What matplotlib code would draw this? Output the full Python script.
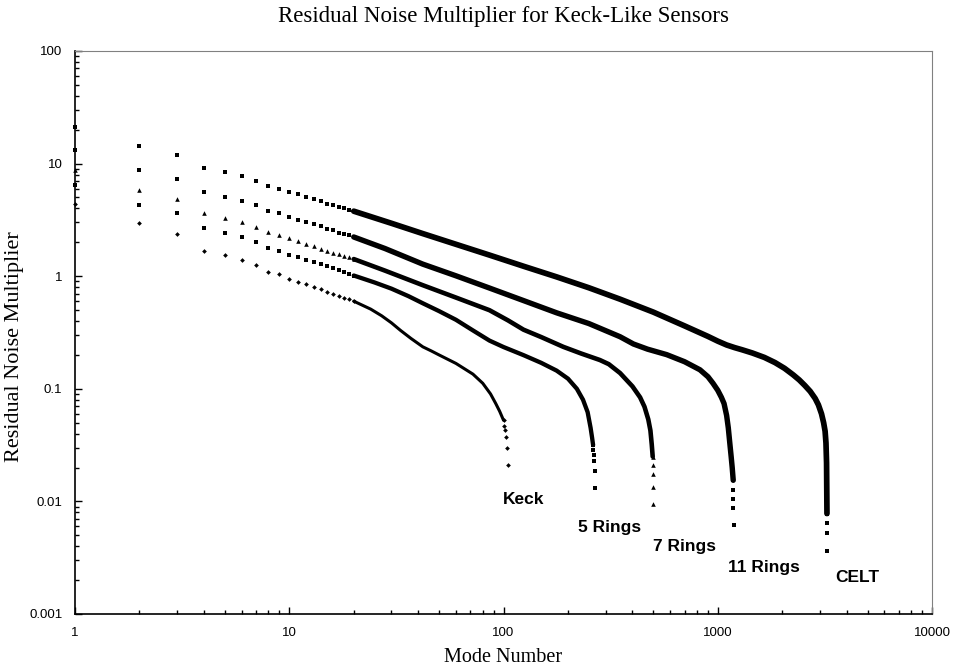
import numpy as np
import matplotlib
matplotlib.use("Agg")
import matplotlib.pyplot as plt
from matplotlib.ticker import LogLocator, FuncFormatter, NullFormatter

# ---- data (mode number -> residual noise multiplier)
# first 20 modes are drawn as individual markers
head_modes = list(range(1, 21))

celt_head = [21.2, 14.4, 12.0, 9.2, 8.5, 7.7, 7.0, 6.3, 6.0, 5.6,
             5.33, 5.06, 4.80, 4.61, 4.39, 4.25, 4.13, 4.02, 3.91, 3.78]
r11_head = [13.2, 8.7, 7.27, 5.6, 5.06, 4.66, 4.25, 3.83, 3.61, 3.36,
            3.17, 3.03, 2.90, 2.78, 2.65, 2.55, 2.44, 2.37, 2.31, 2.23]
r7_head = [8.7, 5.77, 4.83, 3.65, 3.32, 3.02, 2.74, 2.47, 2.31, 2.19,
           2.04, 1.93, 1.84, 1.76, 1.69, 1.62, 1.57, 1.515, 1.466, 1.42]
r5_head = [6.5, 4.33, 3.61, 2.67, 2.43, 2.22, 2.0, 1.78, 1.68, 1.55,
           1.47, 1.40, 1.34, 1.28, 1.227, 1.178, 1.13, 1.092, 1.056, 1.014]
keck_head = [4.36, 2.94, 2.39, 1.69, 1.54, 1.39, 1.25, 1.09, 1.04, 0.953,
             0.89, 0.845, 0.803, 0.767, 0.731, 0.702, 0.668, 0.642, 0.621, 0.600]

# dense middle part (markers merge into a solid band)
celt_body_modes = [20, 30, 42, 60, 86, 125, 177, 250, 350, 500, 700, 900,
                   1000, 1100, 1200, 1300, 1450, 1650, 1850, 2050, 2250,
                   2400, 2550, 2700, 2850, 2950, 3050, 3120, 3170, 3200,
                   3220, 3234]
celt_body = [3.78, 2.95, 2.39, 1.92, 1.54, 1.22, 0.986, 0.79, 0.625, 0.48,
             0.362, 0.292, 0.265, 0.245, 0.232, 0.222, 0.208, 0.19, 0.171,
             0.152, 0.133, 0.12, 0.107, 0.095, 0.082, 0.072, 0.06, 0.05,
             0.042, 0.033, 0.022, 0.0078]
r11_body_modes = [20, 28, 42, 60, 86, 125, 177, 250, 282, 350, 404, 470, 578,
                  700, 826, 900, 950, 1000, 1040, 1070, 1100, 1120, 1140,
                  1155, 1168, 1176, 1181]
r11_body = [2.23, 1.76, 1.28, 1.008, 0.785, 0.604, 0.473, 0.38, 0.345, 0.29,
            0.25, 0.225, 0.201, 0.174, 0.1475, 0.128, 0.112, 0.097, 0.084,
            0.074, 0.058, 0.045, 0.032, 0.025, 0.02, 0.017, 0.0154]
r7_body_modes = [20, 28, 42, 60, 86, 105, 124, 150, 190, 230, 282, 310, 350,
                 400, 434, 455, 474, 485, 492, 497]
r7_body = [1.42, 1.12, 0.832, 0.646, 0.499, 0.405, 0.335, 0.288, 0.236,
           0.206, 0.18, 0.1655, 0.138, 0.105, 0.084, 0.0693, 0.0535, 0.0426,
           0.032, 0.025]
r5_body_modes = [20, 25, 30, 36, 42, 50, 60, 72, 86, 100, 124, 150, 177, 200,
                 220, 235, 247, 255, 259, 262]
r5_body = [1.014, 0.88, 0.775, 0.665, 0.575, 0.49, 0.41, 0.33, 0.268, 0.235,
           0.199, 0.17, 0.145, 0.123, 0.1, 0.08, 0.062, 0.045, 0.037, 0.0316]
keck_body_modes = [20, 24, 27, 30, 33, 37, 42, 46, 50, 60, 72, 80, 87, 92, 96,
                   100]
keck_body = [0.600, 0.51, 0.445, 0.385, 0.331, 0.28, 0.236, 0.217, 0.20,
             0.168, 0.135, 0.112, 0.090, 0.074, 0.063, 0.0526]

# last few modes, separated again as the curve drops
celt_tail_modes = [3234, 3235, 3236, 3237]
celt_tail = [0.0078, 0.00637, 0.00519, 0.00363]
r11_tail_modes = [1181, 1182, 1183, 1184, 1185]
r11_tail = [0.0154, 0.0126, 0.0106, 0.00865, 0.00615]
r7_tail_modes = [497, 498, 499, 500, 501]
r7_tail = [0.025, 0.021, 0.0175, 0.0134, 0.0095]
r5_tail_modes = [262, 263, 264, 265, 266, 267]
r5_tail = [0.0316, 0.0286, 0.0257, 0.0228, 0.0188, 0.0131]
keck_tail_modes = [100, 101, 102, 103, 104, 105]
keck_tail = [0.0526, 0.0472, 0.0428, 0.0370, 0.0298, 0.0210]

series = [
    # head, body modes, body, tail modes, tail, marker, size, line width
    (celt_head, celt_body_modes, celt_body, celt_tail_modes, celt_tail, "s", 2.9, 4.1),
    (r11_head, r11_body_modes, r11_body, r11_tail_modes, r11_tail, "s", 2.9, 3.9),
    (r7_head, r7_body_modes, r7_body, r7_tail_modes, r7_tail, "^", 3.3, 3.3),
    (r5_head, r5_body_modes, r5_body, r5_tail_modes, r5_tail, "s", 2.9, 3.1),
    (keck_head, keck_body_modes, keck_body, keck_tail_modes, keck_tail, "D", 2.4, 2.2),
]

labels = ["Keck", "5 Rings", "7 Rings", "11 Rings", "CELT"]
label_xy = [(124, 0.0105), (312, 0.00586), (696, 0.0040), (1644, 0.00259), (4480, 0.00211)]

fig = plt.figure(figsize=(9.56, 6.70), dpi=100)
ax = fig.add_axes([75 / 956, 56 / 670, 857 / 956, 563 / 670])

for head, bm, bv, tm, tv, mk, ms, lw in series:
    ax.plot(head_modes, head, ls="none", marker=mk, ms=ms, color="black",
            mew=0, clip_on=False, zorder=3)
    ax.plot(bm, bv, "-", lw=lw, color="black", solid_capstyle="round",
            solid_joinstyle="round")
    ax.plot(tm, tv, ls="none", marker=mk, ms=ms, color="black", mew=0)

for txt, (x, y) in zip(labels, label_xy):
    ax.text(x, y, txt, ha="center", va="center", fontsize=12.5,
            fontweight="bold", family="Liberation Sans")

ax.set_xscale("log")
ax.set_yscale("log")
ax.set_xlim(1, 10000)
ax.set_ylim(0.001, 100)

fmt = FuncFormatter(lambda v, p: f"{v:g}")
ax.xaxis.set_major_locator(LogLocator(base=10, numticks=10))
ax.yaxis.set_major_locator(LogLocator(base=10, numticks=10))
ax.xaxis.set_minor_locator(LogLocator(base=10, subs=np.arange(2, 10), numticks=10))
ax.yaxis.set_minor_locator(LogLocator(base=10, subs=np.arange(2, 10), numticks=10))
ax.xaxis.set_major_formatter(fmt)
ax.yaxis.set_major_formatter(fmt)
ax.xaxis.set_minor_formatter(NullFormatter())
ax.yaxis.set_minor_formatter(NullFormatter())

ax.tick_params(which="both", direction="in", top=False, right=False,
               labelsize=9.5, width=1)
ax.tick_params(which="major", length=5, pad=9)
ax.tick_params(which="minor", length=3)
for lab in ax.get_xticklabels() + ax.get_yticklabels():
    lab.set_family("Liberation Sans")

for side in ("left", "bottom"):
    ax.spines[side].set_linewidth(1.2)
    ax.spines[side].set_color("black")
for side in ("top", "right"):
    ax.spines[side].set_linewidth(0.8)
    ax.spines[side].set_color("#808080")

ax.set_title("Residual Noise Multiplier for Keck-Like Sensors",
             family="Liberation Serif", fontsize=16.5, pad=21)
ax.set_xlabel("Mode Number", family="Liberation Serif", fontsize=14.5)
ax.set_ylabel("Residual Noise Multiplier", family="Liberation Serif", fontsize=16)
ax.xaxis.set_label_coords(0.5, -(657 - 614) / 563)
ax.xaxis.label.set_verticalalignment("center")
ax.yaxis.set_label_coords((14 - 75) / 857, 0.475)
ax.yaxis.label.set_verticalalignment("center")

fig.savefig("out.png", dpi=100)
